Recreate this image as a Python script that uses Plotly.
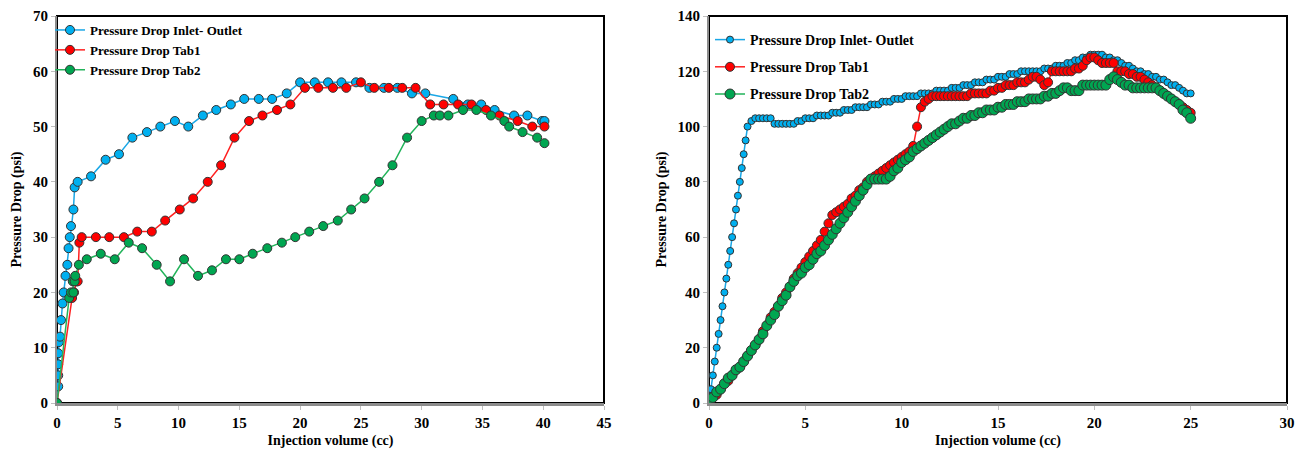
import plotly.graph_objects as go

# ---------------- Left chart data ----------------
L_blue_x = [0, 0.1, 0.1, 0.1, 0.1, 0.15, 0.25, 0.33, 0.45, 0.55, 0.7, 0.85, 0.95, 1.05, 1.15, 1.35, 1.45, 1.7,
            2.8, 4.0, 5.1, 6.2, 7.4, 8.5, 9.7, 10.8, 12.0, 13.1, 14.3, 15.4, 16.6, 17.7, 18.9, 20.0, 21.2, 22.3,
            23.4, 24.6, 25.7, 26.9, 28.0, 29.2, 30.3, 32.6, 33.8, 34.9, 36.0, 37.6, 38.7, 39.9, 40.1]
L_blue_y = [0, 3, 5, 7, 9, 11, 12, 15, 18, 20, 23, 25, 28, 30, 32, 35, 39, 40,
            41, 44, 45, 48, 49, 50, 51, 50, 52, 53, 54, 55, 55, 55, 56, 58, 58, 58,
            58, 58, 57, 57, 57, 56, 56, 55, 54, 54, 53, 52, 52, 51, 51]

L_red_x = [0, 1.24, 1.4, 1.6, 1.7, 1.84, 2.03, 3.2, 4.3, 5.5, 6.6, 7.8, 8.9, 10.1, 11.2, 12.4, 13.5, 14.6, 15.8,
           16.9, 18.1, 19.2, 20.4, 21.5, 22.7, 23.8, 25.0, 26.1, 27.3, 28.4, 29.5, 30.7, 31.8, 33.0, 34.1,
           35.3, 36.4, 37.9, 39.1, 40.1]
L_red_y = [0, 19, 20, 22, 22, 29, 30, 30, 30, 30, 31, 31, 33, 35, 37, 40, 43, 48, 51,
           52, 53, 54, 57, 57, 57, 57, 58, 57, 57, 57, 57, 54, 54, 54, 54,
           53, 52, 51, 50, 50]

L_green_x = [0, 1.0, 1.15, 1.35, 1.3, 1.45, 1.5, 1.8, 2.45, 3.6, 4.75, 5.9, 7.0, 8.2, 9.3, 10.45, 11.6, 12.75,
             13.9, 15.0, 16.1, 17.3, 18.5, 19.6, 20.75, 21.9, 23.1, 24.2, 25.3, 26.5, 27.6, 28.8, 30.0, 31.0,
             31.5, 32.2, 33.4, 34.5, 35.7, 36.8, 37.2, 38.3, 39.5, 40.1]
L_green_y = [0, 19, 20, 20, 22, 22, 23, 25, 26, 27, 26, 29, 28, 25, 22, 26, 23, 24,
             26, 26, 27, 28, 29, 30, 31, 32, 33, 35, 37, 40, 43, 48, 51, 52,
             52, 52, 53, 53, 52, 51, 50, 49, 48, 47]

# ---------------- Right chart data ----------------
R_blue_x = [0.0, 0.1, 0.2, 0.3, 0.4, 0.5, 0.6, 0.7, 0.8, 0.9, 1.0, 1.1, 1.2, 1.3, 1.4, 1.5, 1.6, 1.7, 1.8, 1.9, 2.0,
            2.2, 2.4, 2.6, 2.8, 3.0, 3.2, 3.4, 3.6, 3.8, 4.0, 4.2, 4.4, 4.6, 4.8, 5.0, 5.2, 5.4, 5.6, 5.8, 6.0,
            6.2, 6.4, 6.6, 6.8, 7.0, 7.2, 7.4, 7.6, 7.8, 8.0, 8.2, 8.4, 8.6, 8.8, 9.0, 9.2, 9.4, 9.6, 9.8, 10.0,
            10.2, 10.4, 10.6, 10.8, 11.0, 11.2, 11.4, 11.6, 11.8, 12.0, 12.2, 12.4, 12.6, 12.8, 13.0, 13.2, 13.4,
            13.6, 13.8, 14.0, 14.2, 14.4, 14.6, 14.8, 15.0, 15.2, 15.4, 15.6, 15.8, 16.0, 16.2, 16.4, 16.6, 16.8,
            17.0, 17.2, 17.4, 17.6, 17.8, 18.0, 18.2, 18.4, 18.6, 18.8, 19.0, 19.2, 19.4, 19.6, 19.8, 20.0, 20.2,
            20.4, 20.6, 20.8, 21.0, 21.2, 21.4, 21.6, 21.8, 22.0, 22.2, 22.4, 22.6, 22.8, 23.0, 23.2, 23.4, 23.6,
            23.8, 24.0, 24.2, 24.4, 24.6, 24.8, 25.0]
R_blue_y = [0, 5, 10, 15, 20, 25, 30, 35, 40, 45, 50, 55, 60, 65, 70, 75, 80, 85, 90, 95, 100,
            102, 103, 103, 103, 103, 103, 101, 101, 101, 101, 101, 101, 102, 102, 103, 103, 103, 104, 104, 104,
            104, 105, 105, 105, 106, 106, 106, 107, 107, 107, 107, 108, 108, 108, 109, 109, 109, 110, 110, 110,
            111, 111, 111, 111, 112, 112, 112, 112, 113, 113, 113, 113, 114, 114, 114, 115, 115,
            115, 116, 116, 116, 117, 117, 117, 118, 118, 118, 119, 119, 119, 120, 120, 120, 120,
            120, 120, 121, 121, 121, 122, 122, 122, 123, 123, 124, 124, 125, 125, 126, 126, 126,
            126, 125, 125, 124, 124, 123, 122, 122, 121, 120, 120, 119, 119, 118, 118, 117, 117,
            116, 115, 115, 114, 113, 112, 112]

R_x = [0.0, 0.2, 0.4, 0.6, 0.8, 1.0, 1.2, 1.4, 1.6, 1.8, 2.0, 2.2, 2.4, 2.6, 2.8, 3.0, 3.2, 3.4, 3.6, 3.8, 4.0,
       4.2, 4.4, 4.6, 4.8, 5.0, 5.2, 5.4, 5.6, 5.8, 6.0, 6.2, 6.4, 6.6, 6.8, 7.0, 7.2, 7.4, 7.6, 7.8, 8.0,
       8.2, 8.4, 8.6, 8.8, 9.0, 9.2, 9.4, 9.6, 9.8, 10.0, 10.2, 10.4, 10.6, 10.8, 11.0, 11.2, 11.4, 11.6, 11.8,
       12.0, 12.2, 12.4, 12.6, 12.8, 13.0, 13.2, 13.4, 13.6, 13.8, 14.0, 14.2, 14.4, 14.6, 14.8, 15.0, 15.2,
       15.4, 15.6, 15.8, 16.0, 16.2, 16.4, 16.6, 16.8, 17.0, 17.2, 17.4, 17.6, 17.8, 18.0, 18.2, 18.4, 18.6,
       18.8, 19.0, 19.2, 19.4, 19.6, 19.8, 20.0, 20.2, 20.4, 20.6, 20.8, 21.0, 21.2, 21.4, 21.6, 21.8, 22.0,
       22.2, 22.4, 22.6, 22.8, 23.0, 23.2, 23.4, 23.6, 23.8, 24.0, 24.2, 24.4, 24.6, 24.8, 25.0]
R_red_y = [0, 2, 3, 5, 7, 8, 10, 12, 13, 15, 17, 19, 21, 23, 26, 28, 31, 33, 35, 38, 40,
           42, 45, 47, 49, 51, 53, 55, 57, 59, 62, 65, 68, 69, 70, 71, 72, 74, 75, 77, 78,
           80, 81, 82, 83, 84, 85, 86, 87, 88, 89, 90, 91, 93, 100, 107, 109, 110, 111, 111,
           111, 111, 111, 111, 111, 111, 111, 111, 112, 112, 112, 112, 112, 113, 113, 114, 114,
           115, 115, 115, 116, 116, 116, 117, 118, 118, 117, 115, 116, 120, 120, 120, 120, 120,
           120, 121, 121, 122, 124, 125, 125, 124, 123, 123, 123, 123, 120, 120, 120, 119, 119,
           118, 118, 117, 116, 115, 114, 113, 112, 111, 110, 109, 108, 107, 106, 105]
R_green_y = [0, 2, 4, 5, 7, 9, 10, 12, 13, 15, 17, 19, 21, 23, 25, 28, 30, 32, 35, 37, 39,
             42, 44, 46, 47, 49, 50, 52, 54, 55, 57, 59, 61, 63, 65, 67, 69, 71, 73, 75, 77,
             79, 81, 81, 81, 81, 81, 82, 84, 85, 87, 88, 89, 91, 92, 93, 94, 95, 96, 97,
             98, 99, 100, 101, 101, 102, 103, 103, 104, 104, 105, 105, 106, 106, 106, 107, 107,
             108, 108, 108, 109, 109, 109, 110, 110, 110, 110, 111, 111, 112, 112, 113, 114, 114,
             113, 113, 113, 115, 115, 115, 115, 115, 115, 115, 117, 118, 117, 116, 115, 115, 114,
             114, 114, 114, 114, 114, 114, 113, 112, 111, 110, 109, 108, 106, 105, 103]

LEGEND_NAMES = ["Pressure Drop Inlet- Outlet", "Pressure Drop Tab1", "Pressure Drop Tab2"]

BLUE_M, BLUE_L = "#00B0F0", "#1AA7E6"
RED_M, RED_L = "#FF0000", "#FF2020"
GREEN_M, GREEN_L = "#00A651", "#22B35A"
EDGE = "#333333"
FONT = "Liberation Serif"

fig = go.Figure()

def add(x, y, name, mc, lc, size, xa, ya, leg, lw=1.5):
    fig.add_trace(go.Scatter(
        x=x, y=y, name="<b>" + name + "</b>", mode="lines+markers",
        line=dict(color=lc, width=lw),
        marker=dict(color=mc, size=size, line=dict(color=EDGE, width=1)),
        xaxis=xa, yaxis=ya, legend=leg, legendgroup=leg + name))

add(L_blue_x, L_blue_y, LEGEND_NAMES[0], BLUE_M, BLUE_L, 9, "x", "y", "legend")
add(L_red_x, L_red_y, LEGEND_NAMES[1], RED_M, RED_L, 9, "x", "y", "legend")
add(L_green_x, L_green_y, LEGEND_NAMES[2], GREEN_M, GREEN_L, 9, "x", "y", "legend")

add(R_blue_x, R_blue_y, LEGEND_NAMES[0], BLUE_M, BLUE_L, 7, "x2", "y2", "legend2")
add(R_x, R_red_y, LEGEND_NAMES[1], RED_M, RED_L, 9, "x2", "y2", "legend2")
add(R_x, R_green_y, LEGEND_NAMES[2], GREEN_M, GREEN_L, 10, "x2", "y2", "legend2")

W, H = 1295, 449
top, bot = 16, 403
L0, L1 = 57, 604
R0, R1 = 709, 1287
PH = bot - top

tickfont = dict(family=FONT, size=15, color="black")
titlefont = dict(family=FONT, size=14, color="black")

def xax(domain, rng, dtick, anchor):
    return dict(domain=domain, range=rng, dtick=dtick, tick0=0, anchor=anchor,
                showgrid=False, zeroline=False, showline=True, linecolor="#8C8C8C", linewidth=3,
                ticks="outside", ticklen=4, tickcolor="#BFBFBF", tickwidth=1,
                tickfont=tickfont, tickprefix="<b>", ticksuffix="</b>",
                title=dict(text="<b>Injection volume (cc)</b>", font=titlefont, standoff=6))

def yax(rng, dtick, anchor):
    return dict(domain=[0, 1], range=rng, dtick=dtick, tick0=0, anchor=anchor,
                showgrid=False, zeroline=False, showline=True, linecolor="#8C8C8C", linewidth=2,
                ticks="outside", ticklen=4, tickcolor="#BFBFBF", tickwidth=1,
                tickfont=tickfont, tickprefix="<b>", ticksuffix="</b>",
                title=dict(text="<b>Pressure Drop (psi)</b>", font=titlefont, standoff=8))

fig.update_layout(
    width=W, height=H,
    margin=dict(l=0, r=0, t=top, b=H - bot, autoexpand=False),
    paper_bgcolor="white", plot_bgcolor="white",
    xaxis=xax([L0 / W, L1 / W], [0, 45], 5, "y"),
    yaxis=yax([0, 70], 10, "x"),
    xaxis2=xax([R0 / W, R1 / W], [0, 30], 5, "y2"),
    yaxis2=yax([0, 140], 20, "x2"),
    legend=dict(x=(L0 - 7) / W, y=1 + 1 / PH, xanchor="left", yanchor="top",
                bgcolor="rgba(0,0,0,0)", font=dict(family=FONT, size=13, color="black"),
                tracegroupgap=0, itemwidth=30),
    legend2=dict(x=(R0 + 1) / W, y=1 - 8 / PH, xanchor="left", yanchor="top",
                 bgcolor="rgba(0,0,0,0)", font=dict(family=FONT, size=14, color="black"),
                 tracegroupgap=6, itemwidth=30),
    showlegend=True,
)

# black plot-area frames
for (a, b) in [(L0, L1), (R0, R1)]:
    fig.add_shape(type="rect", xref="paper", yref="paper",
                  x0=a / W, x1=b / W, y0=0, y1=1,
                  line=dict(color="black", width=2), fillcolor="rgba(0,0,0,0)", layer="below")

# remove the default page margin so the figure fills the window exactly
fig.write_html("out.html",
               config={"displayModeBar": False},
               post_script="document.body.style.margin='0';document.body.style.overflow='hidden';")
